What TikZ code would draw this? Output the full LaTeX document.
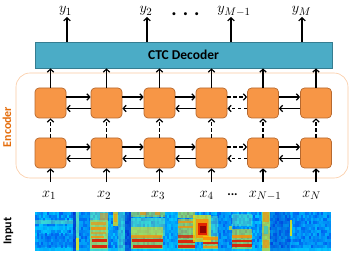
\documentclass[tikz,border=0pt]{standalone}
\usepackage{fontspec}
\newfontfamily\carlito{Carlito}
\usetikzlibrary{arrows.meta}
\definecolor{decfill}{HTML}{4BACC6}
\definecolor{decdraw}{HTML}{357D91}
\definecolor{nodefill}{HTML}{F79646}
\definecolor{nodedraw}{HTML}{B7692F}
\definecolor{encdraw}{HTML}{FAC9A1}
\definecolor{enctext}{HTML}{E46C0A}
\definecolor{jB}{RGB}{0,95,240}
\definecolor{jC}{RGB}{0,200,255}
\definecolor{jDB}{RGB}{0,20,190}
\definecolor{jG}{RGB}{120,240,170}
\definecolor{jY}{RGB}{250,230,0}
\definecolor{jO}{RGB}{255,140,0}
\definecolor{jR}{RGB}{225,25,0}
\definecolor{jDR}{RGB}{140,0,0}
\newcommand\specrect[6]{\fill[#5,opacity=#6] (#1,#2) rectangle (#3,#4);}
\tikzset{
  cell/.style={draw=nodedraw, fill=nodefill, rounded corners=4pt, minimum width=31pt, minimum height=30pt, line width=0.7pt, inner sep=0pt},
  arr/.style={line width=1.2pt, -{Straight Barb[length=3pt,width=6.5pt]}},
  darr/.style={arr, dash pattern=on 3.5pt off 2.5pt},
  lab/.style={font=\fontsize{15}{15}\selectfont, inner sep=1pt},
  sflab/.style={font=\carlito\bfseries\fontsize{12}{12}\selectfont, inner sep=0pt},
}
\begin{document}
\begin{tikzpicture}[x=1pt,y=-1pt]
\useasboundingbox (0,0) rectangle (354,254);
% encoder frame
\node[draw=encdraw, line width=0.6pt, rounded corners=14pt, minimum width=332pt, minimum height=105pt] (enc) at (182,125.5) {};
\node[sflab, text=enctext, rotate=90] (enclab) at (7,127) {Encoder};
% decoder
\node[draw=decdraw, fill=decfill, line width=0.8pt, minimum width=297pt, minimum height=26pt, inner sep=0pt,
      font=\carlito\bfseries\fontsize{13.5}{13.5}\selectfont] (dec) at (183.5,55) {CTC Decoder};
% cells
\foreach \c/\x in {1/50.5,2/106.5,3/159.5,4/211.5,5/263,6/316}{
  \node[cell] (t\c) at (\x,103) {};
  \node[cell] (b\c) at (\x,153) {};
  \draw[arr] (t\c.north) -- (dec.south -| t\c.north);
  \draw[darr] (b\c.north) -- (t\c.south);
}
\foreach \a/\b in {1/2,2/3,3/4,5/6}{
  \draw[arr] ([yshift=6pt]t\a.east) -- ([yshift=6pt]t\b.west);
  \draw[arr] ([yshift=-5.5pt]t\b.west) -- ([yshift=-5.5pt]t\a.east);
  \draw[arr] ([yshift=6pt]b\a.east) -- ([yshift=6pt]b\b.west);
  \draw[arr] ([yshift=-5.5pt]b\b.west) -- ([yshift=-5.5pt]b\a.east);
}
\draw[darr] ([yshift=6pt]t4.east) -- ([yshift=6pt]t5.west);
\draw[darr] ([yshift=-5.5pt]t5.west) -- ([yshift=-5.5pt]t4.east);
\draw[darr] ([yshift=6pt]b4.east) -- ([yshift=6pt]b5.west);
\draw[darr] ([yshift=-5.5pt]b5.west) -- ([yshift=-5.5pt]b4.east);
% inputs
\foreach \c/\x/\t in {1/49/{x_1},2/104/{x_2},3/158/{x_3},4/206.5/{x_4},5/265/{x_{N-1}},6/311.5/{x_N}}{
  \node[lab, anchor=base] (x\c) at (\x,197) {$\t$};
  \draw[arr] (b\c.south |- 0,182) -- (b\c.south);
}
\node[font=\carlito\bfseries\fontsize{13}{13}\selectfont, inner sep=0pt, anchor=base] (xdots) at (232.5,195) {...};
% outputs
\foreach \c/\x/\lx/\t in {1/67/65.5/{y_1},2/147/146/{y_2},3/231/234/{y_{M-1}},4/302/301.5/{y_M}}{
  \node[lab, anchor=base] (y\c) at (\lx,13) {$\t$};
  \draw[arr] (dec.north -| \x,0) -- (\x,17);
}
\node[font=\carlito\bfseries\fontsize{20}{20}\selectfont, inner sep=0pt, anchor=base] (ydots) at (185.5,16) {. . .};
% input spectrogram
\node[sflab, rotate=90] (inlab) at (8.5,231) {Input};
\begin{scope}
\clip (35,212) rectangle (331,251);
\fill[jC] (35,212) rectangle (331,251);
\pgfmathsetseed{7}
\foreach \i in {0,...,147}{
  \foreach \j in {0,...,12}{
    \pgfmathtruncatemacro\p{100*rnd^0.8}
    \fill[jC!\p!jB] (35+2*\i,212+3*\j) rectangle ++(2,3);
  }
}
\specrect{35}{220}{73}{224}{jG}{0.45}
\specrect{35}{226}{73}{230}{jC}{0.6}
\specrect{38}{234}{73}{247}{jB}{0.35}
\specrect{35}{248}{331}{251}{jC}{0.7}
\specrect{73}{212}{76}{251}{jDB}{0.6}
\specrect{76}{212}{79}{251}{jG}{0.7}
\specrect{76}{238}{79}{250}{jY}{0.7}
\specrect{79}{212}{90}{251}{jB}{0.3}
% formant block 1
\specrect{90}{212}{108}{251}{jG}{0.5}
\specrect{90}{220}{108}{249}{jY}{0.4}
\specrect{91}{222}{106}{225}{jO}{0.6}
\specrect{91}{227}{106}{230}{jO}{0.8}
\specrect{91}{232}{106}{234}{jO}{0.5}
\specrect{91}{236}{104}{238}{jO}{0.8}
\specrect{92}{239}{107}{242}{jR}{0.9}
\specrect{92}{245}{107}{248}{jR}{0.9}
\specrect{100}{213}{108}{220}{jO}{0.5}
\specrect{113}{212}{118}{226}{jY}{0.7}
\specrect{114}{214}{117}{222}{jO}{0.6}
\specrect{118}{212}{125}{251}{jG}{0.35}
\specrect{125}{212}{131}{251}{jDB}{0.5}
% formant block 2
\specrect{131}{212}{165}{217}{jY}{0.45}
\specrect{140}{212}{146}{215}{jO}{0.6}
\specrect{155}{212}{160}{215}{jO}{0.6}
\specrect{131}{218}{165}{236}{jG}{0.45}
\specrect{131}{227}{163}{249}{jY}{0.5}
\specrect{131}{235}{162}{238}{jO}{0.7}
\specrect{132}{239}{163}{242}{jR}{0.9}
\specrect{133}{245}{162}{248}{jR}{0.9}
\specrect{165}{212}{178}{251}{jC}{0.3}
% formant block 3
\specrect{178}{212}{195}{218}{jY}{0.5}
\specrect{178}{219}{195}{249}{jY}{0.5}
\specrect{178}{221}{193}{223}{jO}{0.7}
\specrect{178}{226}{193}{228}{jO}{0.7}
\specrect{178}{235}{195}{238}{jR}{0.7}
\specrect{178}{240}{195}{243}{jR}{0.9}
\specrect{178}{245}{195}{248}{jR}{0.9}
\specrect{193}{215}{211}{242}{jY}{0.7}
\specrect{196}{219}{209}{238}{jO}{0.8}
\specrect{198}{223}{207}{235}{jR}{0.9}
\specrect{200}{226}{206}{233}{jDR}{0.9}
\specrect{208}{216}{218}{236}{jG}{0.35}
\specrect{203}{236}{218}{249}{jY}{0.5}
\specrect{203}{237}{218}{240}{jO}{0.8}
\specrect{203}{242}{218}{244}{jR}{0.9}
\specrect{203}{246}{218}{248}{jO}{0.8}
\specrect{218}{212}{232}{251}{jB}{0.25}
\specrect{229}{226}{232}{230}{jY}{0.6}
% formant block 4
\specrect{232}{214}{252}{226}{jG}{0.4}
\specrect{232}{229}{252}{249}{jY}{0.5}
\specrect{232}{235}{252}{238}{jO}{0.8}
\specrect{232}{240}{252}{242}{jR}{0.9}
\specrect{232}{244}{252}{247}{jR}{0.9}
\specrect{262}{212}{270}{251}{jY}{0.6}
\specrect{263}{212}{269}{222}{jO}{0.6}
\specrect{263}{240}{269}{248}{jO}{0.6}
\specrect{264}{226}{268}{234}{jC}{0.5}
\specrect{270}{212}{290}{251}{jDB}{0.3}
\specrect{290}{220}{292}{236}{jY}{0.8}
\specrect{292}{212}{331}{248}{jB}{0.2}
\end{scope}
\end{tikzpicture}
\end{document}
